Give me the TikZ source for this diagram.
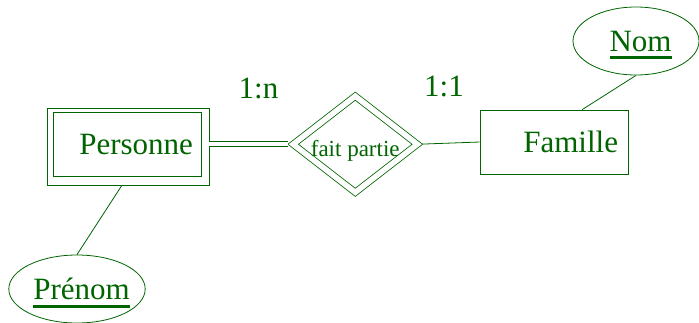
\documentclass[tikz,border=0pt]{standalone}
\usepackage{fontspec}
\setmainfont{Liberation Serif}
\usetikzlibrary{shapes.geometric}
\newsavebox{\keybox}
\newcommand{\keyattr}[1]{\sbox{\keybox}{#1}\hbox to \wd\keybox{\kern4.5pt\rlap{\raisebox{-8pt}[0pt][0pt]{\rule{\wd\keybox}{2.6pt}}}\usebox{\keybox}\hss}}

\begin{document}
\begin{tikzpicture}[x=1pt, y=-1pt,
  big/.style={font=\fontsize{31}{36}\selectfont},
  entity/.style={big, rectangle, draw=ergreen, text=ergreen, line width=0.8pt,
    minimum width=148pt, minimum height=64pt, inner xsep=10pt, text width=128pt, align=right},
  weakframe/.style={rectangle, draw=ergreen, line width=0.8pt, minimum width=162pt, minimum height=77pt},
  attribute/.style={big, ellipse, draw=ergreen, text=ergreen, line width=0.8pt,
    minimum width=126pt, minimum height=68pt, inner sep=0pt},
  relation/.style={diamond, draw=ergreen, text=ergreen, line width=0.8pt, double, double distance=5.5pt,
    minimum width=124.5pt, minimum height=96.5pt, inner sep=0pt, font=\fontsize{23}{27}\selectfont},
  card/.style={big, text=ergreen, inner sep=0pt},
  link/.style={draw=ergreen, line width=0.8pt}]
  \definecolor{ergreen}{RGB}{0,100,0}
  \useasboundingbox (0,0) rectangle (699,322);
  \node [weakframe] (personneframe) at (128, 146.5) {};
  \node [entity, inner xsep=8pt, text width=132pt] (personne) at (127, 144) {Personne};
  \node [relation] (faitpartie) at (355.25, 144.25) {\raisebox{-12pt}[0pt][0pt]{fait partie}};
  \node [entity] (famille) at (554, 142) {Famille};
  \node [attribute] (nom) at (636, 41) {\keyattr{Nom}};
  \node [attribute] (prenom) at (77, 289) {\keyattr{Prénom}};
  \node [card] (cardn) at (258.5, 88) {1:n};
  \node [card] (cardone) at (444, 86.5) {1:1};
  \draw [link, double, double distance=4pt, shorten >=4.5pt] (personneframe.east |- faitpartie.west) -- (faitpartie.west);
  \draw [link, shorten <=4pt] (faitpartie.east) -- (famille.west);
  \draw [link] (famille.49) -- (nom.south);
  \draw [link] (personneframe.261) -- (prenom.north);
\end{tikzpicture}
\end{document}
